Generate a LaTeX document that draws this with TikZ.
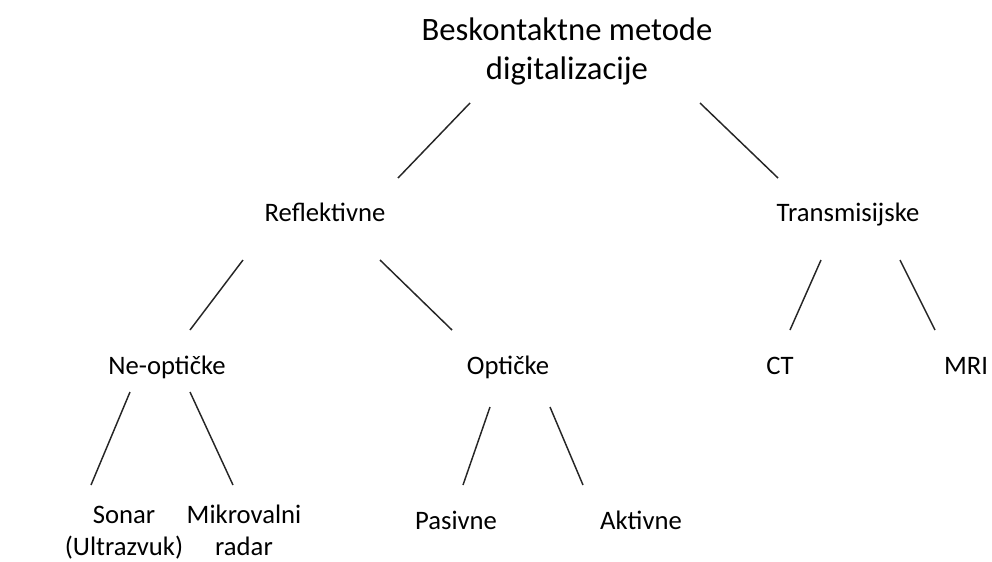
\documentclass[tikz,border=0pt]{standalone}
\usepackage{fontspec}
\setmainfont{Carlito}
\usetikzlibrary{positioning}
\tikzset{
  lbl/.style={font=\fontsize{20}{23.5}\selectfont,align=center,inner sep=0pt,anchor=base},
  rootlbl/.style={font=\fontsize{24.5}{29}\selectfont,align=center,inner sep=0pt,anchor=base},
  branch/.style={line width=1.1pt,black!85}
}
\begin{document}
\begin{tikzpicture}[x=0.75pt,y=-0.75pt]
  \useasboundingbox (0,0) rectangle (992,561);

  % nodes (placed at the baseline of their last line)
  \node[rootlbl] (root) at (567,79) {Beskontaktne metode\\digitalizacije};
  \node[lbl] (refl) at (325,221) {Reflektivne};
  \node[lbl] (trans) at (848,221) {Transmisijske};
  \node[lbl] (neopt) at (167,374) {Ne-optičke};
  \node[lbl] (opt) at (508,374) {Optičke};
  \node[lbl] (ct) at (780,374) {CT};
  \node[lbl] (mri) at (966,374) {MRI};
  \node[lbl] (sonar) at (124,555) {Sonar\\(Ultrazvuk)};
  \node[lbl] (mikro) at (244,555) {Mikrovalni\\radar};
  \node[lbl] (pas) at (456,529) {Pasivne};
  \node[lbl] (akt) at (641,529) {Aktivne};

  % line ends
  \coordinate (root-l) at (470,103);  \coordinate (refl-t) at (398,178);
  \coordinate (root-r) at (700,103);  \coordinate (trans-t) at (778,178);
  \coordinate (refl-l) at (243,260);  \coordinate (neopt-t) at (190,330);
  \coordinate (refl-r) at (380,260);  \coordinate (opt-t) at (452,330);
  \coordinate (trans-l) at (821,260); \coordinate (ct-t) at (790,330);
  \coordinate (trans-r) at (900,260); \coordinate (mri-t) at (935,330);
  \coordinate (neopt-l) at (130,392); \coordinate (sonar-t) at (91,485);
  \coordinate (neopt-r) at (190,392); \coordinate (mikro-t) at (233,485);
  \coordinate (opt-l) at (490,407);   \coordinate (pas-t) at (463,485);
  \coordinate (opt-r) at (550,407);   \coordinate (akt-t) at (583,485);

  \draw[branch] (root-l) -- (refl-t);
  \draw[branch] (root-r) -- (trans-t);
  \draw[branch] (refl-l) -- (neopt-t);
  \draw[branch] (refl-r) -- (opt-t);
  \draw[branch] (trans-l) -- (ct-t);
  \draw[branch] (trans-r) -- (mri-t);
  \draw[branch] (neopt-l) -- (sonar-t);
  \draw[branch] (neopt-r) -- (mikro-t);
  \draw[branch] (opt-l) -- (pas-t);
  \draw[branch] (opt-r) -- (akt-t);
\end{tikzpicture}
\end{document}
